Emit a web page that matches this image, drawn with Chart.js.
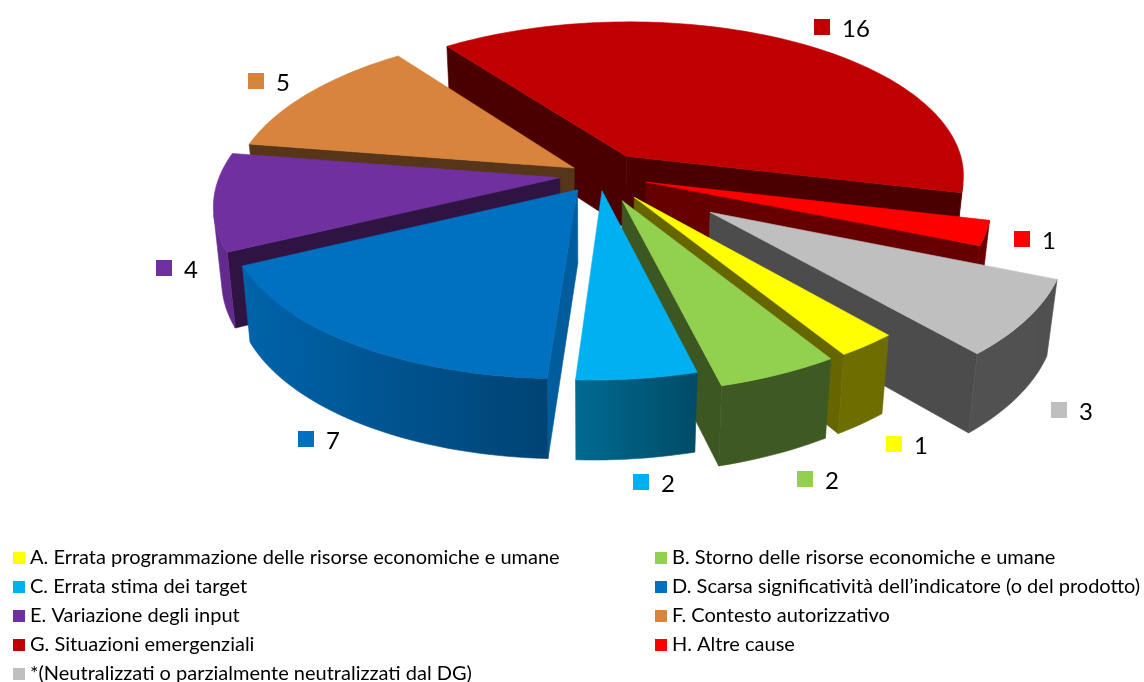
<!DOCTYPE html>
<html><head><meta charset="utf-8">
<style>html,body{margin:0;padding:0;background:#fff}canvas{display:block}</style>
<script src="https://cdn.jsdelivr.net/npm/chart.js@4"></script></head>
<body><canvas id="c" width="1144" height="682"></canvas>
<script>
const categories=["A. Errata programmazione delle risorse economiche e umane","B. Storno delle risorse economiche e umane","C. Errata stima dei target","D. Scarsa significatività dell’indicatore (o del prodotto)","E. Variazione degli input","F. Contesto autorizzativo","G. Situazioni emergenziali","H. Altre cause","*(Neutralizzati o parzialmente neutralizzati dal DG)"];
const values=[1,2,2,7,4,5,16,1,3];
const colors=["#FFFF00","#92D050","#00B0F0","#0070C0","#7030A0","#D9843D","#C00000","#FF0000","#BFBFBF"];
const explosions=[60,60,34,38,40,30,50,50,136];
const startFace=[.4,.4,.4,.82,.42,.4,.39,.4,.4];
const endFace=[.4,.42,.4,.82,.4,.4,.39,.4,.4];
const labelPos=[[886,436],[797,471],[633,474],[298,431],[156,260],[248,73],[814,19],[1014,231],[1051,402]];
const legendX=[14,656];
const legendY=[558,587,616,645,674];
const V={A:340,B:158,p:.14,pz:.08,H:73,vx:690,vy:175,c:-91,lean:.022,lx:590,base:345,shear:5};
function proj(X,Y,Z){const w=1+V.p*Y;let x=V.vx+(V.c+V.A*X)/w-V.shear*Y,y=V.vy-V.B*Y/w;
 if(Z){y+=V.H*Z/(1+V.pz*Y);x-=(x-V.lx)*V.lean*Z}return [x,y]}
function shade(hex,f){const n=parseInt(hex.slice(1),16);return `rgb(${Math.round((n>>16&255)*f)},${Math.round((n>>8&255)*f)},${Math.round((n&255)*f)})`}
function poly(ctx,pts,fill){ctx.beginPath();pts.forEach((p,i)=>i?ctx.lineTo(p[0],p[1]):ctx.moveTo(p[0],p[1]));ctx.closePath();ctx.fillStyle=fill;ctx.strokeStyle=fill;ctx.lineWidth=.6;ctx.fill();ctx.stroke()}
function area(p){let s=0;for(let i=0;i<p.length;i++){const q=p[(i+1)%p.length];s+=p[i][0]*q[1]-q[0]*p[i][1]}return s}
function wallF(n){n=((n%360)+360)%360;const t=[[0,.4],[165,.43],[182,.6],[240,.87],[280,.95],[360,.95]];for(let i=1;i<t.length;i++)if(n<=t[i][0]){const f=(n-t[i-1][0])/(t[i][0]-t[i-1][0]);return t[i-1][1]+f*(t[i][1]-t[i-1][1])}return .4}
function wall(ctx,run,col,rim){
 if(!run.length)return;
 const up=run.map(b=>rim(b,0)),dn=run.map(b=>rim(b,1)).reverse();
 const x0=up[0][0],x1=up[up.length-1][0];
 const g=ctx.createLinearGradient(x0,0,x1===x0?x0+1:x1,0);
 run.forEach((b,k)=>g.addColorStop(k/(run.length-1||1),shade(col,wallF(b*180/Math.PI))));
 poly(ctx,up.concat(dn),g);
}
const pie3d={id:'pie3d',
 beforeDatasetDraw(chart){
  const ctx=chart.ctx,arcs=chart.getDatasetMeta(0).data;
  const items=arcs.map((el,i)=>{const a0=el.startAngle+Math.PI/2,a1=el.endAngle+Math.PI/2,m=(a0+a1)/2,e=el.options.offset/V.base;
    return {i,a0,a1,m,ox:e*Math.sin(m),oy:e*Math.cos(m)}});
  items.sort((a,b)=>Math.cos(b.m)-Math.cos(a.m));
  ctx.save();
  for(const s of items){
   const col=colors[s.i],rim=(a,z)=>proj(s.ox+Math.sin(a),s.oy+Math.cos(a),z),ap=z=>proj(s.ox,s.oy,z);
   let q=[ap(0),rim(s.a0,0),rim(s.a0,1),ap(1)];
   if(area(q)<0)poly(ctx,q,shade(col,startFace[s.i]));
   q=[rim(s.a1,0),ap(0),ap(1),rim(s.a1,1)];
   if(area(q)<0)poly(ctx,q,shade(col,endFace[s.i]));
   const n=Math.max(2,Math.ceil((s.a1-s.a0)/(Math.PI/120)));
   let run=[];
   for(let k=0;k<n;k++){const b0=s.a0+(s.a1-s.a0)*k/n,b1=s.a0+(s.a1-s.a0)*(k+1)/n;
    q=[rim(b0,0),rim(b1,0),rim(b1,1),rim(b0,1)];
    if(area(q)<0){if(!run.length)run.push(b0);run.push(b1)}else{wall(ctx,run,col,rim);run=[]}}
   wall(ctx,run,col,rim);
   const top=[ap(0)];for(let k=0;k<=n;k++)top.push(rim(s.a0+(s.a1-s.a0)*k/n,0));
   poly(ctx,top,col);
  }
  ctx.restore();
  return false;
 },
 afterDraw(chart){
  const ctx=chart.ctx;ctx.save();
  ctx.textBaseline='middle';ctx.textAlign='left';ctx.fillStyle='#000';
  ctx.font='24px Lato';
  values.forEach((v,i)=>{const p=labelPos[i];ctx.fillStyle=colors[i];ctx.fillRect(p[0],p[1],16,16);ctx.fillStyle='#000';ctx.fillText(String(v),p[0]+28,p[1]+10)});
  ctx.font='20px Lato';
  categories.forEach((t,i)=>{const x=legendX[i%2],y=legendY[Math.floor(i/2)];ctx.fillStyle=colors[i];ctx.fillRect(x-1,y-6,12,12);ctx.fillStyle='#000';ctx.fillText(t,x+16,y)});
  ctx.restore();
 }};
new Chart(document.getElementById('c'),{type:'pie',plugins:[pie3d],
 data:{labels:categories,datasets:[{data:values,backgroundColor:colors,offset:explosions,borderWidth:0}]},
 options:{responsive:false,animation:false,rotation:138.5,plugins:{legend:{display:false},tooltip:{enabled:false}}}});
</script></body></html>
